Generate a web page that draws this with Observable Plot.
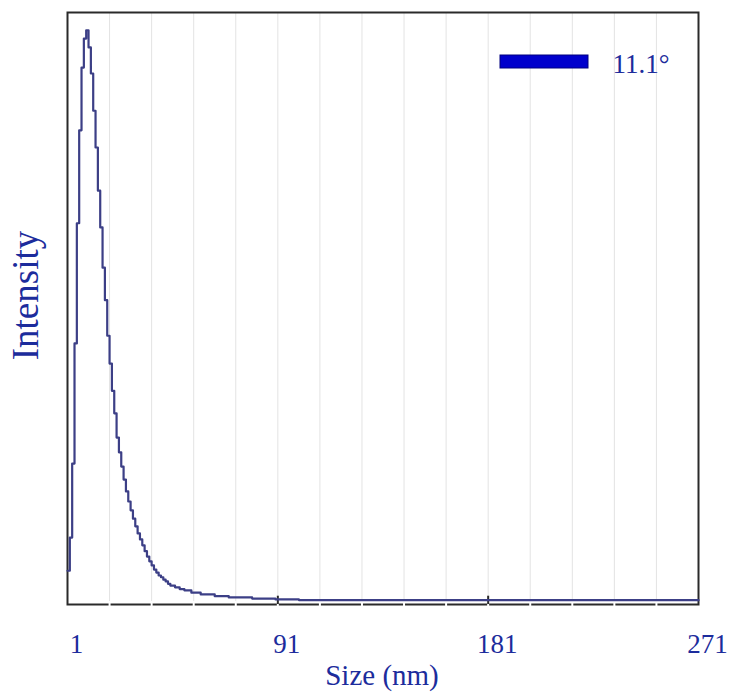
<!DOCTYPE html>
<html>
<head>
<meta charset="utf-8">
<script src="https://cdn.jsdelivr.net/npm/d3@7"></script>
<script src="https://cdn.jsdelivr.net/npm/@observablehq/plot@0.6"></script>
<style>
  html, body { margin: 0; padding: 0; background: #fff; }
</style>
</head>
<body>
<div id="chart"></div>
<script>
// Size bins (nm) and intensity (% of full scale)
const sizes = [1,2,3,4,5,6,7,8,9,10,11,12,13,14,15,16,17,18,19,20,21,22,23,24,25,26,27,28,29,30,31,32,33,34,35,36,37,38,39,40,41,42,43,44,45,47,49,51,54,58,64,70,80,90,100,271];
const intensity = [5.7,11.3,23.8,44.1,64.4,80.1,90.7,95.6,97.0,94.1,89.7,83.4,77.2,69.9,63.7,56.9,51.4,45.4,40.7,36.1,32.3,28.2,25.7,23.3,21.1,19.1,17.4,15.9,14.5,13.2,12.0,11.0,10.0,9.0,8.1,7.3,6.6,5.9,5.4,4.9,4.6,4.2,3.9,3.5,3.2,2.9,2.6,2.4,2.0,1.7,1.4,1.2,1.0,0.85,0.75,0.7];
const xTickLabels = [1, 91, 181, 271];
const gridTicks = [19,37,55,73,91,109,127,145,163,181,199,217,235,253];
const majorTicks = [91, 181];
const seriesName = "11.1°";
const xLabel = "Size (nm)";
const yLabel = "Intensity";

const data = sizes.map((s, i) => ({size: s, value: intensity[i]}));

const textColor = "#1c2c9c";
const font = "Liberation Serif, Times New Roman, serif";

const legendSwatch = (index, scales, values, dims) => {
  const g = d3.create("svg:g");
  const right = dims.width - dims.marginRight;
  g.append("rect")
    .attr("x", right - 198).attr("y", dims.marginTop + 43)
    .attr("width", 88).attr("height", 13)
    .attr("fill", "#0000cc").attr("stroke", "#000080").attr("stroke-width", 1);
  return g.node();
};

const chart = Plot.plot({
  width: 731,
  height: 693,
  marginLeft: 67,
  marginRight: 33,
  marginTop: 12,
  marginBottom: 89,
  style: {background: "#fff", fontFamily: font},
  x: {domain: [1, 271], axis: null},
  y: {domain: [0, 100], axis: null},
  marks: [
    Plot.ruleX(gridTicks, {x: d => d, stroke: "#e3e3e3", strokeWidth: 1}),
    Plot.frame({stroke: "#2a2a2a", strokeWidth: 2}),
    Plot.ruleX(gridTicks, {x: d => d, y1: 0.5, y2: 0, insetBottom: -3, stroke: "#fff", strokeWidth: 2}),
    Plot.ruleX(majorTicks, {x: d => d, y1: 1.4, y2: 0, stroke: "#2a2a2a", strokeWidth: 2}),
    Plot.line(data, {x: "size", y: "value", curve: "step-after", stroke: "#3c3f86", strokeWidth: 2.2}),
    Plot.text(xTickLabels, {x: d => d, text: d => String(d), frameAnchor: "bottom", lineAnchor: "bottom", dy: 48, dx: 9, fontSize: 27, fill: textColor, fontFamily: font}),
    Plot.text([xLabel], {frameAnchor: "bottom", lineAnchor: "bottom", dy: 80, dx: -1, fontSize: 29, fill: textColor, fontFamily: font}),
    Plot.text([yLabel], {frameAnchor: "left", textAnchor: "middle", rotate: -90, lineAnchor: "bottom", dx: -30, dy: -13, fontSize: 37, fill: textColor, fontFamily: font}),
    Plot.text([seriesName], {frameAnchor: "top-left", textAnchor: "start", lineAnchor: "bottom", dx: 545, dy: 60, fontSize: 27, fill: textColor, fontFamily: font}),
    legendSwatch
  ]
});
document.getElementById("chart").appendChild(chart);
</script>
</body>
</html>
